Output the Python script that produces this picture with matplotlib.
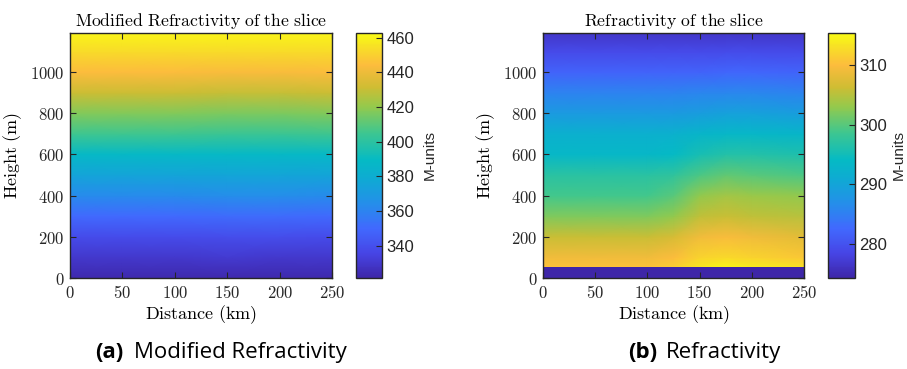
import numpy as np
import matplotlib
matplotlib.use("Agg")
import matplotlib.pyplot as plt
from matplotlib.colors import LinearSegmentedColormap
from matplotlib.ticker import FuncFormatter

plt.rcParams['mathtext.fontset'] = 'cm'

# ---- data ----
# Left: modified refractivity (M-units)
dist_M = [0, 50, 100, 150, 200, 250]
height_M = [0, 100, 200, 300, 400, 500, 600, 700, 800, 900, 1000, 1100, 1190]
M_vals = [
    [323, 323, 323, 323, 323, 323],
    [330, 330, 330, 331, 330, 330],
    [338, 338, 338, 339, 339, 338],
    [350, 350, 350, 351, 351, 350],
    [363, 363, 363, 364, 364, 363],
    [375, 375, 375, 376, 376, 375],
    [388, 388, 388, 388, 388, 388],
    [405, 405, 405, 404, 404, 405],
    [417, 417, 417, 416, 416, 417],
    [431, 431, 431, 430, 430, 431],
    [444, 444, 444, 443, 443, 444],
    [453, 453, 453, 453, 453, 453],
    [461, 461, 461, 461, 461, 461],
]
M_clim = (321.4, 462.7)

# Right: refractivity (N-units)
dist_N = [0, 50, 100, 125, 150, 175, 200, 250]
height_N = [55, 100, 200, 300, 400, 500, 600, 700, 800, 900, 1000, 1100, 1190]
N_vals = [
    [310.5, 310.5, 310.5, 311.5, 313.5, 314.8, 314.0, 313.0],
    [309.0, 309.0, 309.0, 310.0, 312.0, 312.5, 312.0, 311.0],
    [306.0, 306.0, 306.0, 307.0, 309.0, 309.7, 309.0, 308.0],
    [302.0, 302.0, 302.0, 303.0, 305.5, 306.0, 305.5, 305.0],
    [299.0, 299.0, 299.0, 300.0, 303.0, 304.0, 303.5, 303.0],
    [297.0, 297.0, 297.0, 297.5, 299.5, 300.5, 300.0, 299.5],
    [293.5, 293.5, 293.5, 294.0, 295.5, 296.5, 296.5, 296.0],
    [292.0, 292.0, 292.0, 292.2, 293.0, 293.5, 293.5, 293.0],
    [288.5, 288.5, 288.5, 288.5, 289.0, 289.5, 289.5, 289.0],
    [285.5, 285.5, 285.5, 285.5, 285.7, 286.0, 286.0, 285.5],
    [282.0, 282.0, 282.0, 282.0, 282.0, 282.3, 282.3, 282.0],
    [279.0, 279.0, 279.0, 279.0, 279.0, 279.2, 279.2, 279.0],
    [276.5, 276.5, 276.5, 276.5, 276.5, 276.5, 276.5, 276.5],
]
strip_height = [0, 55]
strip_value = 274.3
N_clim = (274.3, 315.4)

xticks = [0, 50, 100, 150, 200, 250]
yticks = [0, 200, 400, 600, 800, 1000]
ylim_top = 1190

# ---- parula-like colormap ----
parula_pts = [
    (0.00, (0.2422, 0.1504, 0.6603)),
    (0.10, (0.2760, 0.2700, 0.9000)),
    (0.20, (0.2550, 0.4100, 0.9950)),
    (0.30, (0.1450, 0.5550, 0.9200)),
    (0.40, (0.0600, 0.6650, 0.8300)),
    (0.48, (0.0200, 0.7300, 0.7700)),
    (0.60, (0.2600, 0.7800, 0.5500)),
    (0.70, (0.5800, 0.7900, 0.3000)),
    (0.78, (0.8100, 0.7400, 0.2000)),
    (0.87, (0.9900, 0.7350, 0.2400)),
    (0.95, (0.9700, 0.8900, 0.1400)),
    (1.00, (0.9769, 0.9839, 0.0805)),
]
parula = LinearSegmentedColormap.from_list("parula", parula_pts, N=256)

fig = plt.figure(figsize=(9.07, 3.69), dpi=100)

ax1 = fig.add_axes([0.0772, 0.2466, 0.2889, 0.664])
cax1 = fig.add_axes([0.3925, 0.2466, 0.0287, 0.664])
ax2 = fig.add_axes([0.5987, 0.2466, 0.2878, 0.664])
cax2 = fig.add_axes([0.9129, 0.2466, 0.0298, 0.664])

m1 = ax1.pcolormesh(dist_M, height_M, np.array(M_vals), shading='gouraud',
                    cmap=parula, vmin=M_clim[0], vmax=M_clim[1])
m2 = ax2.pcolormesh(dist_N, height_N, np.array(N_vals), shading='gouraud',
                    cmap=parula, vmin=N_clim[0], vmax=N_clim[1])
ax2.pcolormesh([dist_N[0], dist_N[-1]], strip_height,
               np.full((1, 1), strip_value), shading='flat',
               cmap=parula, vmin=N_clim[0], vmax=N_clim[1])

cm_fmt = FuncFormatter(lambda v, p: r'$\mathrm{%d}$' % v)
spine_col = '#262626'

for ax, title in [(ax1, 'Modified Refractivity of the slice'),
                  (ax2, 'Refractivity of the slice')]:
    ax.set_xlim(0, 250)
    ax.set_ylim(0, ylim_top)
    ax.set_xticks(xticks)
    ax.set_yticks(yticks)
    ax.xaxis.set_major_formatter(cm_fmt)
    ax.yaxis.set_major_formatter(cm_fmt)
    ax.tick_params(direction='in', top=True, right=True, length=4,
                   width=0.8, labelsize=12, colors=spine_col, pad=4)
    for s in ax.spines.values():
        s.set_color(spine_col)
        s.set_linewidth(1.0)
    ax.set_title(r'$\mathrm{%s}$' % title.replace(' ', r'\ '), fontsize=12.7, pad=5)
    ax.set_xlabel(r'$\mathrm{Distance\ (km)}$', fontsize=13, labelpad=1)
    ax.set_ylabel(r'$\mathrm{Height\ (m)}$', fontsize=13, labelpad=4)

cb1 = fig.colorbar(m1, cax=cax1)
cb1.set_ticks([340, 360, 380, 400, 420, 440, 460])
cb2 = fig.colorbar(m2, cax=cax2)
cb2.set_ticks([280, 290, 300, 310])
for cb, lp in ((cb1, 6), (cb2, 3)):
    cb.ax.tick_params(direction='in', length=4, width=0.8, labelsize=12,
                      colors=spine_col, pad=3)
    for lab in cb.ax.get_yticklabels():
        lab.set_family('Liberation Sans')
    cb.outline.set_edgecolor(spine_col)
    cb.outline.set_linewidth(1.0)
    cb.set_label('M-units', fontsize=11, family='Liberation Sans',
                 color=spine_col, labelpad=lp)

# captions
fig.text(0.105, 0.045, '(a)', fontsize=16, fontweight='bold', family='Open Sans',
         ha='left', va='center')
fig.text(0.1475, 0.045, 'Modified Refractivity', fontsize=16, family='Open Sans',
         ha='left', va='center')
fig.text(0.692, 0.045, '(b)', fontsize=16, fontweight='bold', family='Open Sans',
         ha='left', va='center')
fig.text(0.7345, 0.045, 'Refractivity', fontsize=16, family='Open Sans',
         ha='left', va='center')

fig.savefig('out.png', dpi=100)
